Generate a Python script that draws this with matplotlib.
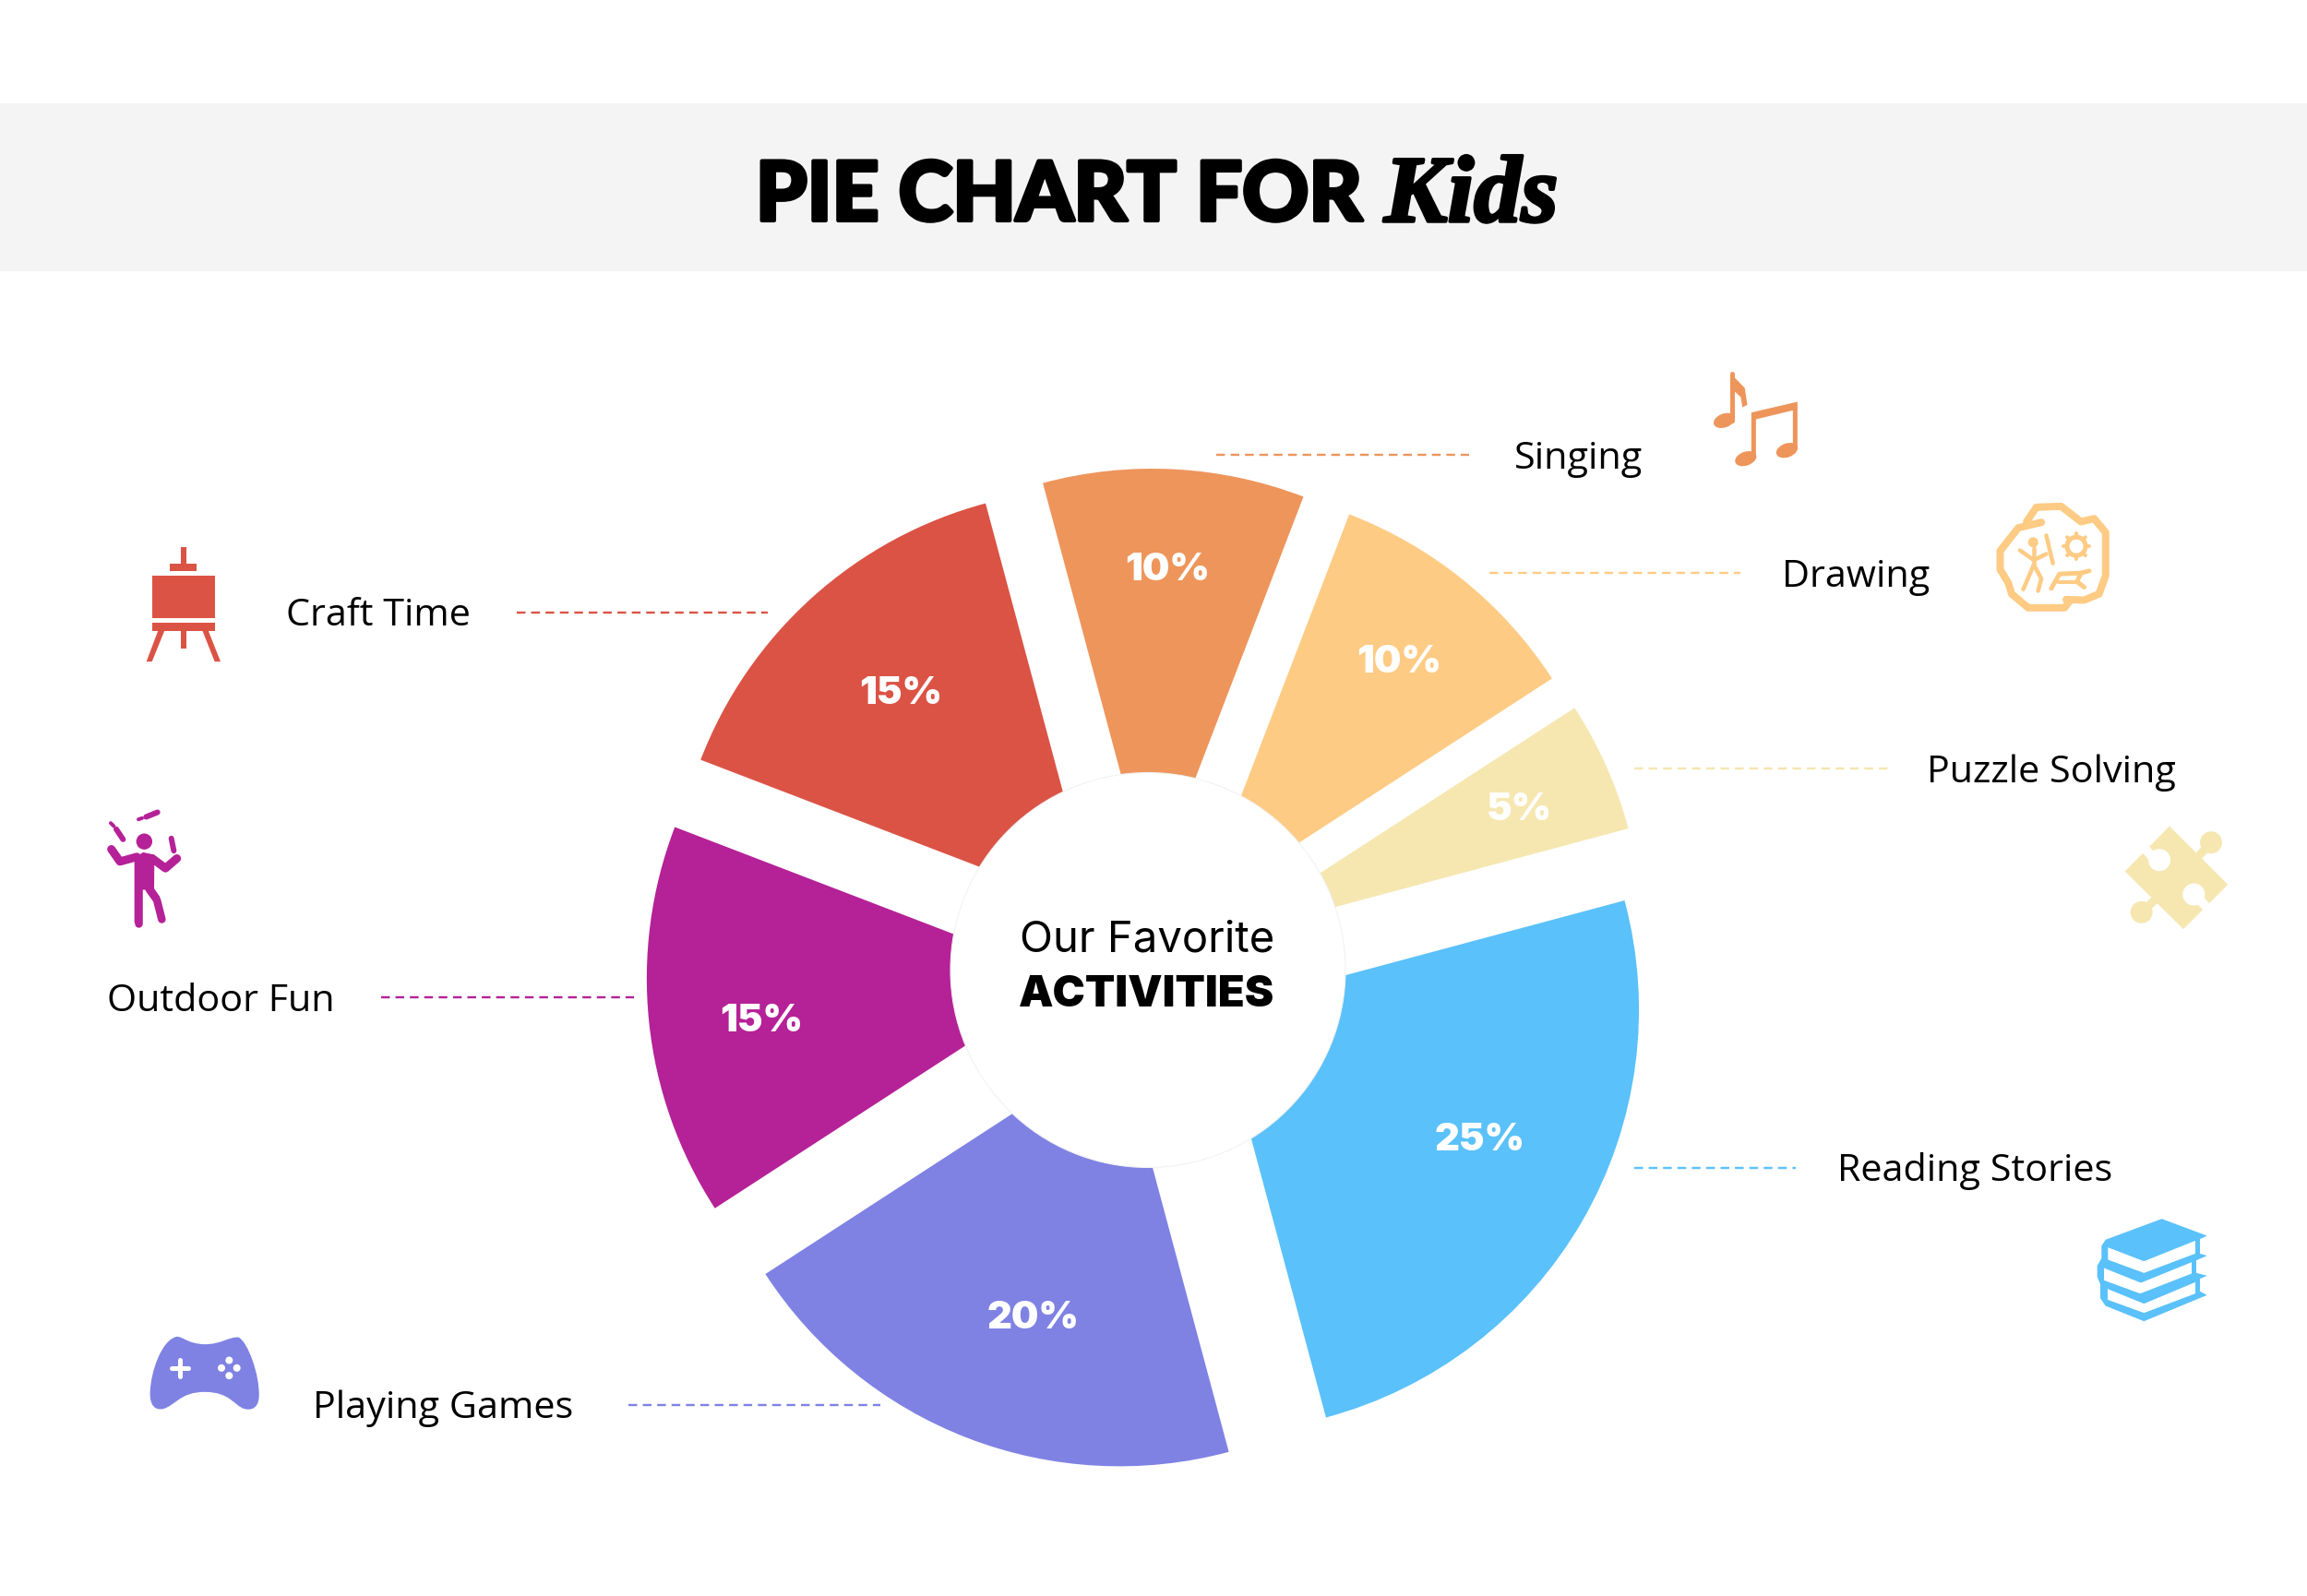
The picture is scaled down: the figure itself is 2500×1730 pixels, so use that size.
#!/usr/bin/env python3

import numpy as np
import matplotlib
matplotlib.use('Agg')
import matplotlib.pyplot as plt
import matplotlib.patheffects as pe
from matplotlib.patches import Circle, Ellipse, PathPatch, Polygon, Rectangle
from matplotlib.path import Path

W, H = 2500, 1731

activities = ['Reading Stories', 'Playing Games', 'Outdoor Fun', 'Craft Time',
              'Singing', 'Drawing', 'Puzzle Solving']
shares = [25, 20, 15, 15, 10, 10, 5]
colors = ['#5AC1FA', '#7F82E3', '#B52197', '#DB5345',
          '#EE955B', '#FECB84', '#F6E7B1']

# label placement in picture pixels, y going down
pct_xy = [(1604, 1236), (1120, 1429), (825, 1107), (976, 752),
          (1265, 618), (1516, 718), (1646, 878)]
label_xy = [(2140, 1270), (480, 1527), (239, 1086), (410, 668),
            (1710, 498), (2011, 626), (2223, 838)]
leader_x = [(1771, 1946), (681, 954), (413, 687), (560, 832),
            (1318, 1592), (1614, 1886), (1771, 2046)]
leader_y = [1267, 1524, 1082, 665, 494, 622, 834]

PX = 0.72  # points per pixel at dpi 100


def yy(y):
    return H - y


def pts(coords, ox=0, oy=0, sx=1, sy=1):
    a = np.array(coords, dtype=float)
    # icons were measured a bit high, hence the 1.5
    return np.column_stack([ox + a[:, 0] / sx, H - (oy + a[:, 1] / sy) - 1.5])


def stroke(ax, coords, color, width, **kw):
    a = pts(coords, *kw.pop('frame', (0, 0, 1, 1)))
    ax.plot(a[:, 0], a[:, 1], color=color, lw=width * PX, solid_capstyle='round',
            solid_joinstyle='round', **kw)


def fill(ax, coords, color, frame=(0, 0, 1, 1)):
    ax.add_patch(Polygon(pts(coords, *frame), closed=True, fc=color, ec='none'))


def draw_easel(ax, c):
    f = (90, 570, 3, 3)
    for box in [(318, 68, 335, 120), (283, 120, 369, 146), (225, 161, 428, 297),
                (225, 313, 428, 339), (318, 339, 335, 398)]:
        x0, y0, x1, y1 = box
        fill(ax, [(x0, y0), (x1, y0), (x1, y1), (x0, y1)], c, f)
    fill(ax, [(244, 339), (265, 339), (224, 440), (206, 440)], c, f)
    fill(ax, [(388, 339), (407, 339), (447, 440), (428, 440)], c, f)


def draw_juggler(ax, c):
    f = (90, 570, 3, 3)
    ax.add_patch(Circle(pts([(199, 1025)], *f)[0], 8.7, fc=c, ec='none'))
    fill(ax, [(167, 1080), (195, 1060), (232, 1068), (231, 1178), (250, 1205),
              (232, 1215), (205, 1182), (192, 1182), (192, 1290), (167, 1290)], c, f)
    stroke(ax, [(92, 1050), (120, 1090), (175, 1075)], c, 9, frame=f)
    stroke(ax, [(225, 1080), (268, 1112), (305, 1080)], c, 9, frame=f)
    stroke(ax, [(180, 1180), (180, 1290)], c, 8.5, frame=f)
    stroke(ax, [(215, 1180), (240, 1215), (256, 1278)], c, 8.5, frame=f)
    # clubs
    stroke(ax, [(108, 985), (130, 1018)], c, 6, frame=f)
    stroke(ax, [(90, 965), (100, 975)], c, 4, frame=f)
    stroke(ax, [(205, 945), (242, 930)], c, 6, frame=f)
    stroke(ax, [(180, 953), (192, 949)], c, 4, frame=f)
    stroke(ax, [(287, 1015), (295, 1055)], c, 6, frame=f)


def draw_pad(ax, c):
    f = (140, 1430, 3, 3)
    verts = [(155, 55), (175, 55), (190, 78), (245, 80), (300, 80), (325, 55),
             (355, 57), (385, 70), (425, 180), (422, 250), (420, 290), (395, 295),
             (375, 290), (340, 280), (330, 235), (245, 235), (165, 235), (150, 280),
             (110, 290), (85, 295), (66, 280), (68, 235), (70, 170), (105, 65),
             (155, 55)]
    codes = [Path.MOVETO] + [Path.CURVE4] * 24
    ax.add_patch(PathPatch(Path(pts(verts, *f), codes), fc=c, ec='none'))
    stroke(ax, [(138, 157), (192, 157)], 'white', 5, frame=f)
    stroke(ax, [(165, 130), (165, 184)], 'white', 5, frame=f)
    for b in [(325, 132), (350, 157), (325, 182), (300, 157)]:
        ax.add_patch(Circle(pts([b], *f)[0], 4, fc='white', ec='none'))


def draw_books(ax, c):
    f = (2240, 1300, 3, 3)
    fill(ax, [(125, 130), (308, 62), (455, 117), (432, 128), (432, 175), (455, 182),
              (420, 197), (420, 238), (455, 247), (432, 257), (432, 298), (455, 310),
              (250, 395), (125, 345), (108, 320), (108, 275), (98, 250), (98, 215),
              (112, 190), (112, 150)], c, f)
    fill(ax, [(133, 155), (250, 200), (417, 133), (417, 175), (250, 238), (133, 195)], 'white', f)
    fill(ax, [(120, 222), (240, 270), (405, 203), (405, 240), (238, 305), (120, 262)], 'white', f)
    fill(ax, [(132, 290), (250, 338), (417, 268), (417, 305), (250, 368), (132, 325)], 'white', f)


def draw_puzzle(ax, c):
    f = (2240, 860, 3, 3)
    fill(ax, [(333, 105), (523, 295), (378, 440), (188, 252)], c, f)
    ax.add_patch(Circle(pts([(468, 158)], *f)[0], 12, fc=c, ec='none'))
    ax.add_patch(Circle(pts([(242, 385)], *f)[0], 12, fc=c, ec='none'))
    stroke(ax, [(430, 200), (460, 168)], c, 9, frame=f)
    stroke(ax, [(285, 345), (250, 378)], c, 9, frame=f)
    ax.add_patch(Circle(pts([(300, 215)], *f)[0], 12, fc='white', ec='none'))
    ax.add_patch(Circle(pts([(412, 327)], *f)[0], 12, fc='white', ec='none'))
    stroke(ax, [(292, 222), (255, 180)], 'white', 10, frame=f)
    stroke(ax, [(420, 335), (458, 372)], 'white', 10, frame=f)


def draw_notes(ax, c):
    f = (1780, 380, 2.8, 3)
    for head in [(248, 226), (313, 350), (438, 323)]:
        ax.add_patch(Ellipse(pts([head], *f)[0], 24, 15, angle=20, fc=c, ec='none'))
    stroke(ax, [(272, 72), (272, 225)], c, 5, frame=f)
    fill(ax, [(278, 85), (310, 120), (318, 175), (303, 183), (298, 150), (278, 130)], c, f)
    fill(ax, [(330, 200), (470, 165), (470, 320), (456, 320), (456, 193), (344, 222),
              (344, 350), (330, 350)], c, f)


def draw_rock(ax, c):
    f = (1780, 380, 2.8, 3)
    stroke(ax, [(1165, 555), (1195, 508), (1270, 505), (1330, 555), (1370, 545),
                (1405, 590), (1405, 730), (1385, 790), (1340, 810), (1285, 808)], c, 8, frame=f)
    stroke(ax, [(1295, 815), (1280, 835), (1170, 835), (1120, 790), (1110, 755),
                (1085, 710), (1085, 650), (1140, 575), (1210, 557)], c, 8, frame=f)
    ax.add_patch(Circle(pts([(1185, 622)], *f)[0], 5.5, fc=c, ec='none'))
    stroke(ax, [(1187, 640), (1187, 695)], c, 4.5, frame=f)
    stroke(ax, [(1145, 648), (1187, 680), (1225, 660)], c, 4.5, frame=f)
    stroke(ax, [(1225, 600), (1245, 690)], c, 4.5, frame=f)
    stroke(ax, [(1187, 695), (1155, 775)], c, 4.5, frame=f)
    stroke(ax, [(1187, 695), (1210, 740), (1200, 780)], c, 4.5, frame=f)
    centre = np.array([1316, 635])
    ax.add_patch(Ellipse(pts([centre], *f)[0], 20, 20, fc='none', ec=c, lw=5 * PX))
    for a in np.radians(np.arange(0, 360, 45)):
        d = np.array([np.cos(a) * 2.8, np.sin(a) * 3])
        stroke(ax, [centre + d * 10, centre + d * 14], c, 4, frame=f)
    stroke(ax, [(1240, 772), (1265, 725), (1330, 722), (1355, 715)], c, 5, frame=f)
    stroke(ax, [(1330, 722), (1318, 750), (1340, 768)], c, 5, frame=f)
    stroke(ax, [(1262, 752), (1318, 752)], c, 4, frame=f)


if __name__ == '__main__':
    fig = plt.figure(figsize=(W / 100, H / 100), dpi=100, facecolor='white')
    ax = fig.add_axes([0, 0, 1, 1])

    ax.add_patch(Rectangle((0, yy(295)), W, 182, fc='#F4F4F4', ec='none'))

    # the pie itself, every wedge pushed out by the same amount (explode is in data units)
    ax.pie(shares, explode=[86] * len(shares), colors=colors, startangle=15,
           counterclock=False, center=(1244, yy(1052.5)), radius=457.6, frame=True,
           wedgeprops={'linewidth': 0})
    ax.add_patch(Circle((1244, yy(1052.5)), 214, fc='white', ec='#F2F2F2', lw=0.8, zorder=3))

    ax.set_xlim(0, W)
    ax.set_ylim(0, H)
    ax.axis('off')

    for name, share, c, (px, py), (lx, ly), (x0, x1), y in zip(
            activities, shares, colors, pct_xy, label_xy, leader_x, leader_y):
        ax.text(px, yy(py), str(share) + '%', color='white', fontsize=30, family='Inter',
                fontweight='black', ha='center', va='center', zorder=4)
        ax.text(lx, yy(ly), name, color='black', fontsize=29.8, family='Open Sans',
                ha='center', va='center', zorder=4)
        ax.plot([x0, x1], [yy(y), yy(y)], color=c, lw=1.7, linestyle=(0, (4, 2.6)))

    ax.text(1243, yy(1019), 'Our Favorite', color='black', fontsize=34, family='Inter',
            ha='center', va='center', zorder=4)
    ax.text(1243, yy(1079), 'ACTIVITIES', color='black', fontsize=34, family='Inter',
            fontweight='black', ha='center', va='center', zorder=4)

    title = ax.text(1476, yy(240), 'PIE CHART FOR', color='black', fontsize=64, family='Lato',
                    fontweight='black', ha='right', va='baseline')
    title.set_path_effects([pe.withStroke(linewidth=3, foreground='black')])
    kids = ax.text(1500, yy(241), 'Kids', color='black', fontsize=74, family='Liberation Serif',
                   fontweight='bold', fontstyle='italic', ha='left', va='baseline')
    kids.set_path_effects([pe.withStroke(linewidth=2.5, foreground='black')])

    draw_easel(ax, colors[3])
    draw_juggler(ax, colors[2])
    draw_pad(ax, colors[1])
    draw_books(ax, colors[0])
    draw_puzzle(ax, colors[6])
    draw_notes(ax, colors[4])
    draw_rock(ax, colors[5])

    fig.savefig('out.png', dpi=100)
    plt.close()
